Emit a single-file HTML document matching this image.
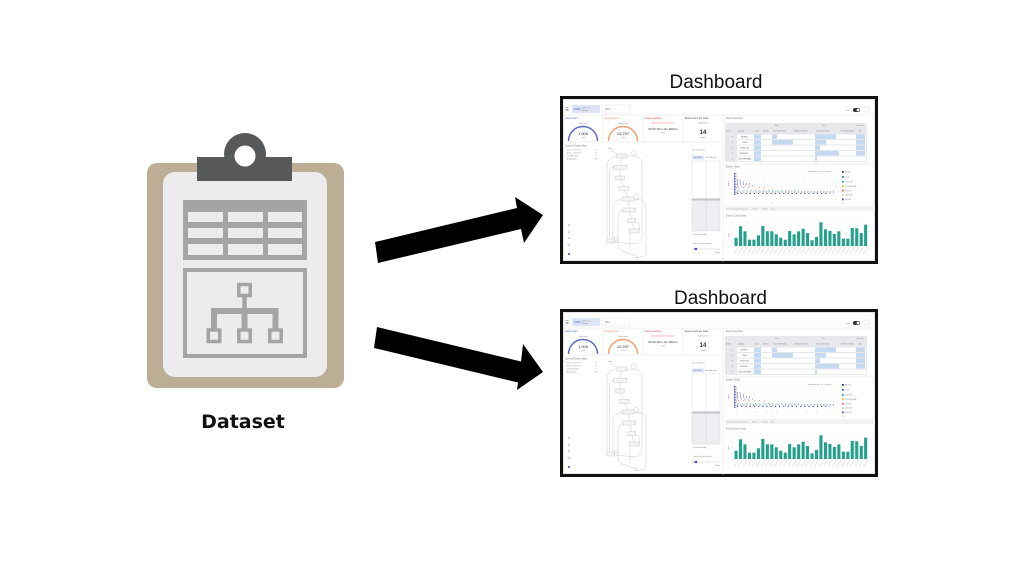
<!DOCTYPE html>
<html><head><meta charset="utf-8"><style>
html,body{margin:0;padding:0;background:#fff;}
svg{display:block;}
</style></head><body>
<svg width="1024" height="576" viewBox="0 0 1024 576" xmlns="http://www.w3.org/2000/svg">
<rect width="1024" height="576" fill="#fff"/>

<!-- Clipboard -->
<rect x="147" y="163" width="197" height="225" rx="10" fill="#bcae94"/>
<rect x="163" y="172" width="164" height="205" rx="12" fill="#ececef"/>
<circle cx="245" cy="154" r="21" fill="#56585a"/>
<rect x="197" y="157" width="95" height="24" fill="#56585a"/>
<circle cx="245" cy="156" r="10.5" fill="#fff"/>
<!-- table icon -->
<rect x="183" y="200" width="124" height="60" fill="#a4a4a6"/>
<g fill="#ececef">
<rect x="188" y="212" width="35" height="10"/><rect x="228" y="212" width="35" height="10"/><rect x="268" y="212" width="34" height="10"/>
<rect x="188" y="228" width="35" height="10"/><rect x="228" y="228" width="35" height="10"/><rect x="268" y="228" width="34" height="10"/>
<rect x="188" y="244" width="35" height="11"/><rect x="228" y="244" width="35" height="11"/><rect x="268" y="244" width="34" height="11"/>
</g>
<!-- hierarchy box -->
<rect x="185" y="270" width="120" height="86" fill="none" stroke="#a4a4a6" stroke-width="4"/>
<g fill="none" stroke="#a4a4a6" stroke-width="3.5">
<rect x="238.75" y="284.5" width="11.5" height="11"/>
<rect x="208.25" y="330" width="11.5" height="11.5"/>
<rect x="238.75" y="330" width="11.5" height="11.5"/>
<rect x="269.75" y="330" width="11.5" height="11.5"/>
</g>
<g fill="#a4a4a6">
<rect x="242.3" y="296" width="4.4" height="13"/>
<rect x="211" y="308" width="67.5" height="6"/>
<rect x="211" y="308" width="6" height="21"/>
<rect x="241.5" y="308" width="6" height="21"/>
<rect x="272.5" y="308" width="6" height="21"/>
</g>
<text x="243" y="428" text-anchor="middle" font-family="'DejaVu Sans', sans-serif" font-weight="bold" font-size="19" fill="#111">Dataset</text>

<!-- Arrows -->
<polygon points="375,242 517,208 515,197 543,215 524,243 521,229 378,263" fill="#000"/>
<polygon points="377,327 521,361.5 523,344 543,372 517,390 518,382.5 374,348" fill="#000"/>

<!-- Titles -->
<text x="716" y="88" text-anchor="middle" font-family="'Liberation Sans', sans-serif" font-size="19" fill="#111">Dashboard</text>
<text x="720.5" y="304" text-anchor="middle" font-family="'Liberation Sans', sans-serif" font-size="19" fill="#111">Dashboard</text>

<!-- Dashboard 1 -->
<svg x="560" y="96" width="318" height="168" viewBox="0 0 318 168">
<rect x="1.5" y="1.5" width="315" height="165" fill="#fff" stroke="#111" stroke-width="3"/>
<rect x="3.5" y="3.5" width="311" height="161" fill="none" stroke="#d4d4d4" stroke-width="0.6"/>
<g font-family="'Liberation Sans', sans-serif" font-size="2.4" fill="#777">
<rect x="5.5" y="11.5" width="3" height="0.5" fill="#666"/><rect x="5.5" y="13" width="3" height="0.5" fill="#666"/><rect x="5.5" y="14.5" width="3" height="0.5" fill="#666"/>
<rect x="12" y="9" width="28" height="8" rx="1" fill="#dde4f6"/>
<text x="14" y="14" fill="#3f56bf" font-size="2.6">100%</text><text x="22" y="12.5" font-size="2">1.0E ~1.0</text><text x="22" y="15" font-size="1.6">selected</text>
<rect x="42" y="9" width="28" height="8" fill="#fff" stroke="#dcdcdc" stroke-width="0.4"/>
<text x="45" y="14">Filter</text>
<text x="286" y="15" font-size="2">Live</text>
<rect x="293" y="12" width="7" height="4" rx="2" fill="#333"/><circle cx="298" cy="14" r="1.4" fill="#fff"/>
<rect x="304" y="11" width="5" height="5" fill="none" stroke="#ccc" stroke-width="0.4"/>
<line x1="3" y1="19" x2="315" y2="19" stroke="#e0e0e0" stroke-width="0.5"/>
<!-- KPI cards -->
<g stroke="#e0e0e0" stroke-width="0.5"><line x1="43" y1="19" x2="43" y2="46"/><line x1="83" y1="19" x2="83" y2="46"/><line x1="123" y1="19" x2="123" y2="46"/><line x1="163" y1="19" x2="163" y2="166"/><line x1="3" y1="46" x2="163" y2="46"/></g>
<text x="5" y="23" fill="#4a62c5">Case Count</text>
<text x="45" y="23" fill="#f08a50">Event Count</text>
<text x="85" y="23" fill="#e04848">Mean Leadtime</text>
<text x="125" y="23" fill="#444">Event Count per Case</text>
<text x="23" y="28" text-anchor="middle" font-size="1.8">Total cases</text>
<path d="M8.5 45 A14.5 14.5 0 0 1 37.5 45" fill="none" stroke="#5b6cc4" stroke-width="1.5"/>
<text x="23" y="39" text-anchor="middle" font-size="4" fill="#333">1,006</text>
<text x="23" y="42" text-anchor="middle" font-size="1.6">Total</text>
<text x="63" y="28" text-anchor="middle" font-size="1.8">Total events</text>
<path d="M48.5 45 A14.5 14.5 0 0 1 77.5 45" fill="none" stroke="#f4a06e" stroke-width="1.5"/>
<text x="63" y="39" text-anchor="middle" font-size="4" fill="#333">14,257</text>
<text x="63" y="42" text-anchor="middle" font-size="1.6">Total</text>
<text x="103" y="27.5" text-anchor="middle" font-size="1.7" fill="#e06060">Spending 00h 00m 11s 000ms</text>
<text x="103" y="34" text-anchor="middle" font-size="3" fill="#333">00 00 00m 11s 000ms</text>
<text x="103" y="37.5" text-anchor="middle" font-size="1.6">Total</text>
<text x="143" y="27.5" text-anchor="middle" font-size="1.7">Total Events in</text>
<text x="143" y="38" text-anchor="middle" font-size="6" font-weight="bold" fill="#333">14</text>
<text x="143" y="42" text-anchor="middle" font-size="1.6">events</text>
<!-- process map -->
<text x="5" y="50.5">Current Stream Map</text>
<g font-size="1.6"><text x="7" y="54.5">Case - ##########</text><text x="35" y="54.5">##</text><text x="7" y="57.5">Event - ##########</text><text x="35" y="57.5">##</text><text x="7" y="60.5">Case Filter Rate</text><text x="35" y="60.5">##</text><text x="7" y="63.5">Activity Count</text><text x="34" y="63.5">11 ##</text></g>
<g fill="none" stroke="#b3b3b3" stroke-width="0.35">
<path d="M50 54 L57 58"/>
<path d="M61.7 62 L60 69.3 M60 73.3 L60 80 M60 84 L64 90.3 M64 94.3 L68.3 101 M68.3 105 L69.3 112 M69.3 116 L71.7 122.7 M71.7 126.7 L74 133"/>
<path d="M56 60 C48 62 47 66 47 72 L47 140 C47 143 48 144 49 145"/>
<path d="M53.5 71 C50 72 49.5 75 49.5 78 L49.5 142"/>
<path d="M66.7 60 C80 60 82 63 82 68 L82 140 Q82 146 76 148 L55 146"/>
<path d="M74 103 C86 103 86 108 86 115 L86 158 Q86 161 80 161"/>
<path d="M62 103 C55 105 53 108 53 112 L53 143"/>
<path d="M64 114 C58 116 58 120 58 124 L58 150 Q58 155 66 156 L76 160"/>
<path d="M77 126 C80 128 80 132 79 135 M70 137 L70 155"/>
<circle cx="74" cy="57" r="2.5"/><circle cx="76" cy="101" r="2.5"/><circle cx="56" cy="143" r="2"/>
</g>
<g fill="#f4f4f4" stroke="#aaa" stroke-width="0.3">
<rect x="56.7" y="58" width="10" height="4"/><rect x="53.5" y="69.3" width="13" height="4"/><rect x="55.5" y="80" width="9" height="4"/><rect x="59" y="90.3" width="10" height="4"/><rect x="62.3" y="101" width="12" height="4"/><rect x="62.8" y="112" width="13" height="4"/><rect x="67.7" y="122.7" width="8" height="4"/><rect x="69" y="133" width="10" height="4"/><rect x="46.7" y="143" width="8" height="4"/>
</g>
<text x="50" y="53" text-anchor="middle" font-size="1.5">Start</text>
<text x="77" y="162" text-anchor="middle" font-size="1.5">End</text>
<g fill="none" stroke="#999" stroke-width="0.35"><circle cx="9" cy="129" r="1"/><circle cx="9" cy="136" r="1"/><circle cx="9" cy="142" r="1"/><rect x="8" y="148" width="2" height="2"/></g>
<circle cx="9" cy="158" r="1" fill="#3344bb"/>
<!-- middle panel -->
<text x="132" y="54.5" font-size="1.8">Process Stream</text>
<rect x="132" y="59.5" width="12" height="4" fill="#dde4f6"/>
<text x="133" y="62.2" font-size="1.5" fill="#3f56bf">Case Table 1</text>
<text x="145" y="62.2" font-size="1.5">Case Table Page</text>
<rect x="132" y="104" width="28" height="31" fill="#eceef1"/>
<rect x="132" y="102.5" width="28" height="2" fill="#bfc3ca"/>
<rect x="132" y="65" width="28" height="70" fill="none" stroke="#cfcfcf" stroke-width="0.4"/>
<line x1="146" y1="65" x2="146" y2="135" stroke="#d0d0d0" stroke-width="0.4"/>
<text x="129" y="108" font-size="1.8">‹</text>
<text x="133" y="139" font-size="1.5">0 contents selected</text>
<text x="133" y="148" font-size="1.5">Count of Process to Display</text>
<line x1="133" y1="153" x2="160" y2="153" stroke="#ccc" stroke-width="0.5"/>
<line x1="133" y1="153" x2="136" y2="153" stroke="#3344bb" stroke-width="0.6"/>
<circle cx="136" cy="153" r="1.2" fill="#3344bb"/>
<text x="160" y="157" text-anchor="end" font-size="1.4">10 items</text>
<!-- Event summary -->
<text x="166" y="23">Event Summary</text>
<rect x="165" y="27" width="142" height="39" fill="#e6e8ec"/>
<g font-size="1.4" fill="#777"><text x="215" y="30">Event</text><text x="262" y="30">Case</text><text x="297" y="30">Event Time</text>
<text x="166" y="35.5">Number</text><text x="178" y="35.5">Activity ID</text><text x="195" y="35.5">Count</text><text x="203" y="35.5">Ratio(%)</text><text x="213" y="35.5">Count of Start Events</text><text x="234" y="35.5">Start Events Ratio(%)</text><text x="256" y="35.5">Count of Start Events</text><text x="281" y="35.5">End Events Ratio(%)</text><text x="299" y="35.5">Avg</text></g>
<g fill="#fff"><rect x="177" y="38.5" width="129" height="4.5"/><rect x="177" y="44" width="129" height="4.5"/><rect x="177" y="49.5" width="129" height="4.5"/><rect x="177" y="55" width="129" height="4.5"/><rect x="177" y="60.5" width="129" height="4.5"/></g>
<g fill="#c5d9f1">
<rect x="194" y="38.5" width="7" height="4.5"/><rect x="194" y="44" width="7" height="4.5"/><rect x="194" y="49.5" width="7" height="4.5"/><rect x="194" y="55" width="7" height="4.5"/><rect x="194" y="60.5" width="7" height="4.5"/>
<rect x="296" y="38.5" width="9" height="4.5"/><rect x="296" y="44" width="9" height="4.5"/><rect x="296" y="49.5" width="9" height="4.5"/><rect x="296" y="55" width="9" height="4.5"/>
<rect x="212" y="38.5" width="5" height="4.5"/><rect x="212" y="44" width="21" height="4.5"/>
<rect x="255" y="38.5" width="21" height="4.5"/><rect x="255" y="44" width="11" height="4.5"/><rect x="255" y="49.5" width="5" height="4.5"/><rect x="255" y="55" width="24" height="4.5"/><rect x="255" y="60.5" width="2" height="4.5"/>
</g>
<g font-size="1.5" fill="#555"><text x="172" y="41.5">1</text><text x="172" y="47">2</text><text x="172" y="52.5">3</text><text x="172" y="58">4</text><text x="172" y="63.5">5</text>
<text x="181" y="41.5">RECEIVE</text><text x="182" y="47">LOG IN</text><text x="180" y="52.5">DOWNLOAD</text><text x="180" y="58">RECEIVED</text><text x="178" y="63.5">CUSTOMER NAME</text></g>
<line x1="163" y1="68" x2="315" y2="68" stroke="#e0e0e0" stroke-width="0.5"/>
<!-- Dotted chart -->
<text x="166" y="71.5">Dotted Chart</text>
<text x="248" y="76" font-size="1.3">Grouped case date: #1 to #1 (case date)</text>
<g stroke="#efefef" stroke-width="0.3"><rect x="174" y="77" width="101" height="22" fill="none"/><line x1="184" y1="77" x2="184" y2="99"/><line x1="194" y1="77" x2="194" y2="99"/><line x1="204" y1="77" x2="204" y2="99"/><line x1="214" y1="77" x2="214" y2="99"/><line x1="224" y1="77" x2="224" y2="99"/><line x1="234" y1="77" x2="234" y2="99"/><line x1="244" y1="77" x2="244" y2="99"/><line x1="254" y1="77" x2="254" y2="99"/><line x1="264" y1="77" x2="264" y2="99"/><line x1="174" y1="88" x2="275" y2="88"/></g>
<text x="169" y="90" font-size="1.5" transform="rotate(-90 169 90)">case id</text>
<line x1="174.6" y1="77" x2="174.6" y2="99" stroke="#2d3a8c" stroke-width="1" stroke-dasharray="1 0.6"/>
<line x1="175.7" y1="77" x2="175.7" y2="99" stroke="#5a78d0" stroke-width="0.9" stroke-dasharray="0.8 0.8"/>
<line x1="176.7" y1="78" x2="176.7" y2="99" stroke="#e56a6a" stroke-width="0.7" stroke-dasharray="0.6 2"/>
<line x1="177" y1="96" x2="275" y2="96" stroke="#3f62c8" stroke-width="0.9" stroke-dasharray="1 2.2"/>
<line x1="177" y1="97.6" x2="270" y2="97.6" stroke="#2d3a8c" stroke-width="0.9" stroke-dasharray="1.2 3"/>
<line x1="178" y1="94.5" x2="240" y2="94.5" stroke="#2bb3a3" stroke-width="0.8" stroke-dasharray="0.8 3.5"/>
<line x1="179" y1="93" x2="215" y2="93" stroke="#f5c030" stroke-width="0.8" stroke-dasharray="0.8 4"/>
<line x1="178" y1="91.5" x2="205" y2="91.5" stroke="#e56a6a" stroke-width="0.8" stroke-dasharray="0.8 4.5"/>
<line x1="177" y1="90" x2="196" y2="90" stroke="#7040c0" stroke-width="0.8" stroke-dasharray="0.8 3"/>
<line x1="177" y1="88" x2="191" y2="88" stroke="#2d3a8c" stroke-width="0.8" stroke-dasharray="1 2"/>
<line x1="177" y1="86" x2="186" y2="86" stroke="#3f62c8" stroke-width="0.8" stroke-dasharray="1 2"/>
<line x1="177" y1="84" x2="182" y2="84" stroke="#2d3a8c" stroke-width="0.8" stroke-dasharray="1 1.5"/>
<g fill="#bbb" font-size="1.3"><text x="176" y="103.5">01</text><text x="186" y="103.5">02</text><text x="196" y="103.5">03</text><text x="206" y="103.5">04</text><text x="216" y="103.5">05</text><text x="226" y="103.5">06</text><text x="236" y="103.5">07</text><text x="246" y="103.5">08</text><text x="256" y="103.5">09</text><text x="266" y="103.5">10</text><text x="211" y="107.5">date</text></g>
<g><rect x="282" y="75" width="1.8" height="1.8" fill="#2d3a8c"/><rect x="282" y="80" width="1.8" height="1.8" fill="#3f62c8"/><rect x="282" y="85" width="1.8" height="1.8" fill="#2bb3a3"/><rect x="282" y="89.3" width="1.8" height="1.8" fill="#f5c030"/><rect x="282" y="93.8" width="1.8" height="1.8" fill="#e56a6a"/><rect x="282" y="98.2" width="1.8" height="1.8" fill="#d0d0d0"/><rect x="282" y="102.5" width="1.8" height="1.8" fill="#7040c0"/><rect x="282" y="106.5" width="1.8" height="1.8" fill="#e0e0e0"/></g>
<g font-size="1.3" fill="#888"><text x="285" y="76.5">RECEIVE</text><text x="285" y="81.5">LOG IN</text><text x="285" y="86.5">DOWNLOAD</text><text x="285" y="90.8">CUSTOMER NAME</text><text x="285" y="95.3">RECEIVED</text><text x="285" y="99.7">CANCELLED</text><text x="285" y="104">RECEIVED</text></g>
<rect x="165" y="110" width="150" height="5" fill="#f2f3f5"/>
<g font-size="1.4" fill="#999"><text x="167" y="113.3">Time grouped value management</text><text x="191" y="113.3">○ Start time</text><text x="201" y="113.3">○ End time</text><text x="210" y="113.3">○ Mean</text></g>
<!-- Event Count Trend -->
<text x="166" y="120.5">Event Count Trend</text>
<g stroke="#f0f0f0" stroke-width="0.3"><line x1="174" y1="126" x2="308" y2="126"/><line x1="174" y1="132" x2="308" y2="132"/><line x1="174" y1="138" x2="308" y2="138"/><line x1="174" y1="144" x2="308" y2="144"/></g>
<line x1="174" y1="150" x2="308" y2="150" stroke="#ccc" stroke-width="0.3"/>
<text x="169" y="141" font-size="1.4" transform="rotate(-90 169 141)">count</text>
<g font-size="1.1" fill="#aaa"><text x="171" y="127">500</text><text x="171" y="133">400</text><text x="171" y="139">300</text><text x="171" y="145">200</text><text x="171" y="150.5">0</text></g>
<g fill="#24a08d">
<rect x="174.5" y="141.7" width="3.1" height="8.3"/><rect x="179" y="130.3" width="3.1" height="19.7"/><rect x="183.4" y="135.3" width="3.1" height="14.7"/><rect x="187.9" y="143.7" width="3.1" height="6.3"/><rect x="192.4" y="143.7" width="3.1" height="6.3"/><rect x="196.9" y="139.3" width="3.1" height="10.7"/><rect x="201.3" y="130" width="3.1" height="20"/><rect x="205.8" y="135.3" width="3.1" height="14.7"/><rect x="210.3" y="135.3" width="3.1" height="14.7"/><rect x="214.7" y="138.3" width="3.1" height="11.7"/><rect x="219.2" y="141.7" width="3.1" height="8.3"/><rect x="223.7" y="143.7" width="3.1" height="6.3"/><rect x="228.1" y="135" width="3.1" height="15"/><rect x="232.6" y="138.3" width="3.1" height="11.7"/><rect x="237.1" y="135.3" width="3.1" height="14.7"/><rect x="241.6" y="132.7" width="3.1" height="17.3"/><rect x="246" y="137" width="3.1" height="13"/><rect x="250.5" y="144.3" width="3.1" height="5.7"/><rect x="255" y="141" width="3.1" height="9"/><rect x="259.4" y="126.3" width="3.1" height="23.7"/><rect x="263.9" y="133.3" width="3.1" height="16.7"/><rect x="268.4" y="135" width="3.1" height="15"/><rect x="272.8" y="138" width="3.1" height="12"/><rect x="277.3" y="135.3" width="3.1" height="14.7"/><rect x="281.8" y="142.7" width="3.1" height="7.3"/><rect x="286.3" y="142.7" width="3.1" height="7.3"/><rect x="290.7" y="132" width="3.1" height="18"/><rect x="295.2" y="132.3" width="3.1" height="17.7"/><rect x="299.7" y="137" width="3.1" height="13"/><rect x="304.1" y="128.7" width="3.1" height="21.3"/>
</g>
<path d="M178 151.5 L174 157.5 M182.5 151.5 L178.5 157.5 M187 151.5 L183 157.5 M191.5 151.5 L187.5 157.5 M196 151.5 L192 157.5 M200.4 151.5 L196.4 157.5 M204.9 151.5 L200.9 157.5 M209.4 151.5 L205.4 157.5 M213.8 151.5 L209.8 157.5 M218.3 151.5 L214.3 157.5 M222.8 151.5 L218.8 157.5 M227.2 151.5 L223.2 157.5 M231.7 151.5 L227.7 157.5 M236.2 151.5 L232.2 157.5 M240.7 151.5 L236.7 157.5 M245.1 151.5 L241.1 157.5 M249.6 151.5 L245.6 157.5 M254.1 151.5 L250.1 157.5 M258.5 151.5 L254.5 157.5 M263 151.5 L259 157.5 M267.5 151.5 L263.5 157.5 M271.9 151.5 L267.9 157.5 M276.4 151.5 L272.4 157.5 M280.9 151.5 L276.9 157.5 M285.4 151.5 L281.4 157.5 M289.8 151.5 L285.8 157.5 M294.3 151.5 L290.3 157.5 M298.8 151.5 L294.8 157.5 M303.2 151.5 L299.2 157.5 M307.7 151.5 L303.7 157.5" stroke="#c4c4c4" stroke-width="0.5" fill="none"/>
</g>
</svg>

<!-- Dashboard 2 -->
<svg x="560" y="309" width="318" height="168" viewBox="0 0 318 168">
<rect x="1.5" y="1.5" width="315" height="165" fill="#fff" stroke="#111" stroke-width="3"/>
<rect x="3.5" y="3.5" width="311" height="161" fill="none" stroke="#d4d4d4" stroke-width="0.6"/>
<g font-family="'Liberation Sans', sans-serif" font-size="2.4" fill="#777">
<rect x="5.5" y="11.5" width="3" height="0.5" fill="#666"/><rect x="5.5" y="13" width="3" height="0.5" fill="#666"/><rect x="5.5" y="14.5" width="3" height="0.5" fill="#666"/>
<rect x="12" y="9" width="28" height="8" rx="1" fill="#dde4f6"/>
<text x="14" y="14" fill="#3f56bf" font-size="2.6">100%</text><text x="22" y="12.5" font-size="2">1.0E ~1.0</text><text x="22" y="15" font-size="1.6">selected</text>
<rect x="42" y="9" width="28" height="8" fill="#fff" stroke="#dcdcdc" stroke-width="0.4"/>
<text x="45" y="14">Filter</text>
<text x="286" y="15" font-size="2">Live</text>
<rect x="293" y="12" width="7" height="4" rx="2" fill="#333"/><circle cx="298" cy="14" r="1.4" fill="#fff"/>
<rect x="304" y="11" width="5" height="5" fill="none" stroke="#ccc" stroke-width="0.4"/>
<line x1="3" y1="19" x2="315" y2="19" stroke="#e0e0e0" stroke-width="0.5"/>
<g stroke="#e0e0e0" stroke-width="0.5"><line x1="43" y1="19" x2="43" y2="46"/><line x1="83" y1="19" x2="83" y2="46"/><line x1="123" y1="19" x2="123" y2="46"/><line x1="163" y1="19" x2="163" y2="166"/><line x1="3" y1="46" x2="163" y2="46"/></g>
<text x="5" y="23" fill="#4a62c5">Case Count</text>
<text x="45" y="23" fill="#f08a50">Event Count</text>
<text x="85" y="23" fill="#e04848">Mean Leadtime</text>
<text x="125" y="23" fill="#444">Event Count per Case</text>
<text x="23" y="28" text-anchor="middle" font-size="1.8">Total cases</text>
<path d="M8.5 45 A14.5 14.5 0 0 1 37.5 45" fill="none" stroke="#5b6cc4" stroke-width="1.5"/>
<text x="23" y="39" text-anchor="middle" font-size="4" fill="#333">1,006</text>
<text x="23" y="42" text-anchor="middle" font-size="1.6">Total</text>
<text x="63" y="28" text-anchor="middle" font-size="1.8">Total events</text>
<path d="M48.5 45 A14.5 14.5 0 0 1 77.5 45" fill="none" stroke="#f4a06e" stroke-width="1.5"/>
<text x="63" y="39" text-anchor="middle" font-size="4" fill="#333">14,257</text>
<text x="63" y="42" text-anchor="middle" font-size="1.6">Total</text>
<text x="103" y="27.5" text-anchor="middle" font-size="1.7" fill="#e06060">Spending 00h 00m 11s 000ms</text>
<text x="103" y="34" text-anchor="middle" font-size="3" fill="#333">00 00 00m 11s 000ms</text>
<text x="103" y="37.5" text-anchor="middle" font-size="1.6">Total</text>
<text x="143" y="27.5" text-anchor="middle" font-size="1.7">Total Events in</text>
<text x="143" y="38" text-anchor="middle" font-size="6" font-weight="bold" fill="#333">14</text>
<text x="143" y="42" text-anchor="middle" font-size="1.6">events</text>
<text x="5" y="50.5">Current Stream Map</text>
<g font-size="1.6"><text x="7" y="54.5">Case - ##########</text><text x="35" y="54.5">##</text><text x="7" y="57.5">Event - ##########</text><text x="35" y="57.5">##</text><text x="7" y="60.5">Case Filter Rate</text><text x="35" y="60.5">##</text><text x="7" y="63.5">Activity Count</text><text x="34" y="63.5">11 ##</text></g>
<g fill="none" stroke="#b3b3b3" stroke-width="0.35">
<path d="M50 54 L57 58"/>
<path d="M61.7 62 L60 69.3 M60 73.3 L60 80 M60 84 L64 90.3 M64 94.3 L68.3 101 M68.3 105 L69.3 112 M69.3 116 L71.7 122.7 M71.7 126.7 L74 133"/>
<path d="M56 60 C48 62 47 66 47 72 L47 140 C47 143 48 144 49 145"/>
<path d="M53.5 71 C50 72 49.5 75 49.5 78 L49.5 142"/>
<path d="M66.7 60 C80 60 82 63 82 68 L82 140 Q82 146 76 148 L55 146"/>
<path d="M74 103 C86 103 86 108 86 115 L86 158 Q86 161 80 161"/>
<path d="M62 103 C55 105 53 108 53 112 L53 143"/>
<path d="M64 114 C58 116 58 120 58 124 L58 150 Q58 155 66 156 L76 160"/>
<path d="M77 126 C80 128 80 132 79 135 M70 137 L70 155"/>
<circle cx="74" cy="57" r="2.5"/><circle cx="76" cy="101" r="2.5"/><circle cx="56" cy="143" r="2"/>
</g>
<g fill="#f4f4f4" stroke="#aaa" stroke-width="0.3">
<rect x="56.7" y="58" width="10" height="4"/><rect x="53.5" y="69.3" width="13" height="4"/><rect x="55.5" y="80" width="9" height="4"/><rect x="59" y="90.3" width="10" height="4"/><rect x="62.3" y="101" width="12" height="4"/><rect x="62.8" y="112" width="13" height="4"/><rect x="67.7" y="122.7" width="8" height="4"/><rect x="69" y="133" width="10" height="4"/><rect x="46.7" y="143" width="8" height="4"/>
</g>
<text x="50" y="53" text-anchor="middle" font-size="1.5">Start</text>
<text x="77" y="162" text-anchor="middle" font-size="1.5">End</text>
<g fill="none" stroke="#999" stroke-width="0.35"><circle cx="9" cy="129" r="1"/><circle cx="9" cy="136" r="1"/><circle cx="9" cy="142" r="1"/><rect x="8" y="148" width="2" height="2"/></g>
<circle cx="9" cy="158" r="1" fill="#3344bb"/>
<text x="132" y="54.5" font-size="1.8">Process Stream</text>
<rect x="132" y="59.5" width="12" height="4" fill="#dde4f6"/>
<text x="133" y="62.2" font-size="1.5" fill="#3f56bf">Case Table 1</text>
<text x="145" y="62.2" font-size="1.5">Case Table Page</text>
<rect x="132" y="104" width="28" height="31" fill="#eceef1"/>
<rect x="132" y="102.5" width="28" height="2" fill="#bfc3ca"/>
<rect x="132" y="65" width="28" height="70" fill="none" stroke="#cfcfcf" stroke-width="0.4"/>
<line x1="146" y1="65" x2="146" y2="135" stroke="#d0d0d0" stroke-width="0.4"/>
<text x="129" y="108" font-size="1.8">‹</text>
<text x="133" y="139" font-size="1.5">0 contents selected</text>
<text x="133" y="148" font-size="1.5">Count of Process to Display</text>
<line x1="133" y1="153" x2="160" y2="153" stroke="#ccc" stroke-width="0.5"/>
<line x1="133" y1="153" x2="136" y2="153" stroke="#3344bb" stroke-width="0.6"/>
<circle cx="136" cy="153" r="1.2" fill="#3344bb"/>
<text x="160" y="157" text-anchor="end" font-size="1.4">10 items</text>
<text x="166" y="23">Event Summary</text>
<rect x="165" y="27" width="142" height="39" fill="#e6e8ec"/>
<g font-size="1.4" fill="#777"><text x="215" y="30">Event</text><text x="262" y="30">Case</text><text x="297" y="30">Event Time</text>
<text x="166" y="35.5">Number</text><text x="178" y="35.5">Activity ID</text><text x="195" y="35.5">Count</text><text x="203" y="35.5">Ratio(%)</text><text x="213" y="35.5">Count of Start Events</text><text x="234" y="35.5">Start Events Ratio(%)</text><text x="256" y="35.5">Count of Start Events</text><text x="281" y="35.5">End Events Ratio(%)</text><text x="299" y="35.5">Avg</text></g>
<g fill="#fff"><rect x="177" y="38.5" width="129" height="4.5"/><rect x="177" y="44" width="129" height="4.5"/><rect x="177" y="49.5" width="129" height="4.5"/><rect x="177" y="55" width="129" height="4.5"/><rect x="177" y="60.5" width="129" height="4.5"/></g>
<g fill="#c5d9f1">
<rect x="194" y="38.5" width="7" height="4.5"/><rect x="194" y="44" width="7" height="4.5"/><rect x="194" y="49.5" width="7" height="4.5"/><rect x="194" y="55" width="7" height="4.5"/><rect x="194" y="60.5" width="7" height="4.5"/>
<rect x="296" y="38.5" width="9" height="4.5"/><rect x="296" y="44" width="9" height="4.5"/><rect x="296" y="49.5" width="9" height="4.5"/><rect x="296" y="55" width="9" height="4.5"/>
<rect x="212" y="38.5" width="5" height="4.5"/><rect x="212" y="44" width="21" height="4.5"/>
<rect x="255" y="38.5" width="21" height="4.5"/><rect x="255" y="44" width="11" height="4.5"/><rect x="255" y="49.5" width="5" height="4.5"/><rect x="255" y="55" width="24" height="4.5"/><rect x="255" y="60.5" width="2" height="4.5"/>
</g>
<g font-size="1.5" fill="#555"><text x="172" y="41.5">1</text><text x="172" y="47">2</text><text x="172" y="52.5">3</text><text x="172" y="58">4</text><text x="172" y="63.5">5</text>
<text x="181" y="41.5">RECEIVE</text><text x="182" y="47">LOG IN</text><text x="180" y="52.5">DOWNLOAD</text><text x="180" y="58">RECEIVED</text><text x="178" y="63.5">CUSTOMER NAME</text></g>
<line x1="163" y1="68" x2="315" y2="68" stroke="#e0e0e0" stroke-width="0.5"/>
<text x="166" y="71.5">Dotted Chart</text>
<text x="248" y="76" font-size="1.3">Grouped case date: #1 to #1 (case date)</text>
<g stroke="#efefef" stroke-width="0.3"><rect x="174" y="77" width="101" height="22" fill="none"/><line x1="184" y1="77" x2="184" y2="99"/><line x1="194" y1="77" x2="194" y2="99"/><line x1="204" y1="77" x2="204" y2="99"/><line x1="214" y1="77" x2="214" y2="99"/><line x1="224" y1="77" x2="224" y2="99"/><line x1="234" y1="77" x2="234" y2="99"/><line x1="244" y1="77" x2="244" y2="99"/><line x1="254" y1="77" x2="254" y2="99"/><line x1="264" y1="77" x2="264" y2="99"/><line x1="174" y1="88" x2="275" y2="88"/></g>
<text x="169" y="90" font-size="1.5" transform="rotate(-90 169 90)">case id</text>
<line x1="174.6" y1="77" x2="174.6" y2="99" stroke="#2d3a8c" stroke-width="1" stroke-dasharray="1 0.6"/>
<line x1="175.7" y1="77" x2="175.7" y2="99" stroke="#5a78d0" stroke-width="0.9" stroke-dasharray="0.8 0.8"/>
<line x1="176.7" y1="78" x2="176.7" y2="99" stroke="#e56a6a" stroke-width="0.7" stroke-dasharray="0.6 2"/>
<line x1="177" y1="96" x2="275" y2="96" stroke="#3f62c8" stroke-width="0.9" stroke-dasharray="1 2.2"/>
<line x1="177" y1="97.6" x2="270" y2="97.6" stroke="#2d3a8c" stroke-width="0.9" stroke-dasharray="1.2 3"/>
<line x1="178" y1="94.5" x2="240" y2="94.5" stroke="#2bb3a3" stroke-width="0.8" stroke-dasharray="0.8 3.5"/>
<line x1="179" y1="93" x2="215" y2="93" stroke="#f5c030" stroke-width="0.8" stroke-dasharray="0.8 4"/>
<line x1="178" y1="91.5" x2="205" y2="91.5" stroke="#e56a6a" stroke-width="0.8" stroke-dasharray="0.8 4.5"/>
<line x1="177" y1="90" x2="196" y2="90" stroke="#7040c0" stroke-width="0.8" stroke-dasharray="0.8 3"/>
<line x1="177" y1="88" x2="191" y2="88" stroke="#2d3a8c" stroke-width="0.8" stroke-dasharray="1 2"/>
<line x1="177" y1="86" x2="186" y2="86" stroke="#3f62c8" stroke-width="0.8" stroke-dasharray="1 2"/>
<line x1="177" y1="84" x2="182" y2="84" stroke="#2d3a8c" stroke-width="0.8" stroke-dasharray="1 1.5"/>
<g fill="#bbb" font-size="1.3"><text x="176" y="103.5">01</text><text x="186" y="103.5">02</text><text x="196" y="103.5">03</text><text x="206" y="103.5">04</text><text x="216" y="103.5">05</text><text x="226" y="103.5">06</text><text x="236" y="103.5">07</text><text x="246" y="103.5">08</text><text x="256" y="103.5">09</text><text x="266" y="103.5">10</text><text x="211" y="107.5">date</text></g>
<g><rect x="282" y="75" width="1.8" height="1.8" fill="#2d3a8c"/><rect x="282" y="80" width="1.8" height="1.8" fill="#3f62c8"/><rect x="282" y="85" width="1.8" height="1.8" fill="#2bb3a3"/><rect x="282" y="89.3" width="1.8" height="1.8" fill="#f5c030"/><rect x="282" y="93.8" width="1.8" height="1.8" fill="#e56a6a"/><rect x="282" y="98.2" width="1.8" height="1.8" fill="#d0d0d0"/><rect x="282" y="102.5" width="1.8" height="1.8" fill="#7040c0"/><rect x="282" y="106.5" width="1.8" height="1.8" fill="#e0e0e0"/></g>
<g font-size="1.3" fill="#888"><text x="285" y="76.5">RECEIVE</text><text x="285" y="81.5">LOG IN</text><text x="285" y="86.5">DOWNLOAD</text><text x="285" y="90.8">CUSTOMER NAME</text><text x="285" y="95.3">RECEIVED</text><text x="285" y="99.7">CANCELLED</text><text x="285" y="104">RECEIVED</text></g>
<rect x="165" y="110" width="150" height="5" fill="#f2f3f5"/>
<g font-size="1.4" fill="#999"><text x="167" y="113.3">Time grouped value management</text><text x="191" y="113.3">○ Start time</text><text x="201" y="113.3">○ End time</text><text x="210" y="113.3">○ Mean</text></g>
<text x="166" y="120.5">Event Count Trend</text>
<g stroke="#f0f0f0" stroke-width="0.3"><line x1="174" y1="126" x2="308" y2="126"/><line x1="174" y1="132" x2="308" y2="132"/><line x1="174" y1="138" x2="308" y2="138"/><line x1="174" y1="144" x2="308" y2="144"/></g>
<line x1="174" y1="150" x2="308" y2="150" stroke="#ccc" stroke-width="0.3"/>
<text x="169" y="141" font-size="1.4" transform="rotate(-90 169 141)">count</text>
<g font-size="1.1" fill="#aaa"><text x="171" y="127">500</text><text x="171" y="133">400</text><text x="171" y="139">300</text><text x="171" y="145">200</text><text x="171" y="150.5">0</text></g>
<g fill="#24a08d">
<rect x="174.5" y="141.7" width="3.1" height="8.3"/><rect x="179" y="130.3" width="3.1" height="19.7"/><rect x="183.4" y="135.3" width="3.1" height="14.7"/><rect x="187.9" y="143.7" width="3.1" height="6.3"/><rect x="192.4" y="143.7" width="3.1" height="6.3"/><rect x="196.9" y="139.3" width="3.1" height="10.7"/><rect x="201.3" y="130" width="3.1" height="20"/><rect x="205.8" y="135.3" width="3.1" height="14.7"/><rect x="210.3" y="135.3" width="3.1" height="14.7"/><rect x="214.7" y="138.3" width="3.1" height="11.7"/><rect x="219.2" y="141.7" width="3.1" height="8.3"/><rect x="223.7" y="143.7" width="3.1" height="6.3"/><rect x="228.1" y="135" width="3.1" height="15"/><rect x="232.6" y="138.3" width="3.1" height="11.7"/><rect x="237.1" y="135.3" width="3.1" height="14.7"/><rect x="241.6" y="132.7" width="3.1" height="17.3"/><rect x="246" y="137" width="3.1" height="13"/><rect x="250.5" y="144.3" width="3.1" height="5.7"/><rect x="255" y="141" width="3.1" height="9"/><rect x="259.4" y="126.3" width="3.1" height="23.7"/><rect x="263.9" y="133.3" width="3.1" height="16.7"/><rect x="268.4" y="135" width="3.1" height="15"/><rect x="272.8" y="138" width="3.1" height="12"/><rect x="277.3" y="135.3" width="3.1" height="14.7"/><rect x="281.8" y="142.7" width="3.1" height="7.3"/><rect x="286.3" y="142.7" width="3.1" height="7.3"/><rect x="290.7" y="132" width="3.1" height="18"/><rect x="295.2" y="132.3" width="3.1" height="17.7"/><rect x="299.7" y="137" width="3.1" height="13"/><rect x="304.1" y="128.7" width="3.1" height="21.3"/>
</g>
<path d="M178 151.5 L174 157.5 M182.5 151.5 L178.5 157.5 M187 151.5 L183 157.5 M191.5 151.5 L187.5 157.5 M196 151.5 L192 157.5 M200.4 151.5 L196.4 157.5 M204.9 151.5 L200.9 157.5 M209.4 151.5 L205.4 157.5 M213.8 151.5 L209.8 157.5 M218.3 151.5 L214.3 157.5 M222.8 151.5 L218.8 157.5 M227.2 151.5 L223.2 157.5 M231.7 151.5 L227.7 157.5 M236.2 151.5 L232.2 157.5 M240.7 151.5 L236.7 157.5 M245.1 151.5 L241.1 157.5 M249.6 151.5 L245.6 157.5 M254.1 151.5 L250.1 157.5 M258.5 151.5 L254.5 157.5 M263 151.5 L259 157.5 M267.5 151.5 L263.5 157.5 M271.9 151.5 L267.9 157.5 M276.4 151.5 L272.4 157.5 M280.9 151.5 L276.9 157.5 M285.4 151.5 L281.4 157.5 M289.8 151.5 L285.8 157.5 M294.3 151.5 L290.3 157.5 M298.8 151.5 L294.8 157.5 M303.2 151.5 L299.2 157.5 M307.7 151.5 L303.7 157.5" stroke="#c4c4c4" stroke-width="0.5" fill="none"/>
</g>
</svg>
</svg>
</body></html>
